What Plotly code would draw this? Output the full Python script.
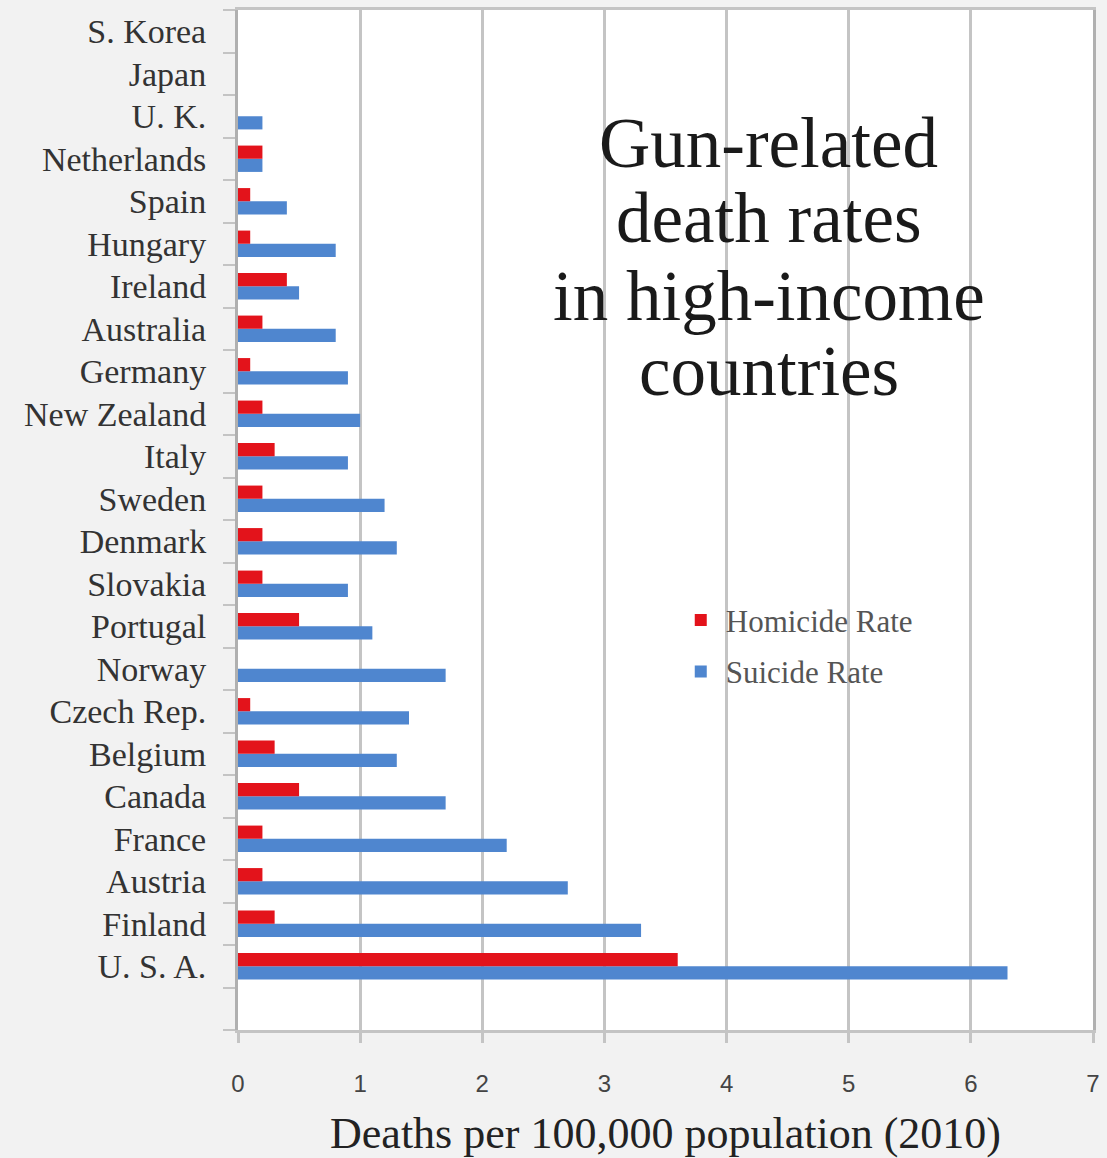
import plotly.graph_objects as go

countries = ["S. Korea", "Japan", "U. K.", "Netherlands", "Spain", "Hungary", "Ireland",
             "Australia", "Germany", "New Zealand", "Italy", "Sweden", "Denmark", "Slovakia",
             "Portugal", "Norway", "Czech Rep.", "Belgium", "Canada", "France", "Austria",
             "Finland", "U. S. A."]
homicide = [0, 0, 0, 0.2, 0.1, 0.1, 0.4, 0.2, 0.1, 0.2, 0.3, 0.2, 0.2, 0.2,
            0.5, 0, 0.1, 0.3, 0.5, 0.2, 0.2, 0.3, 3.6]
suicide = [0, 0, 0.2, 0.2, 0.4, 0.8, 0.5, 0.8, 0.9, 1.0, 0.9, 1.2, 1.3, 0.9,
           1.1, 1.7, 1.4, 1.3, 1.7, 2.2, 2.7, 3.3, 6.3]
title_lines = ["Gun-related", "death rates", "in high-income", "countries"]
x_ticks = [0, 1, 2, 3, 4, 5, 6, 7]

RED = "#e3131b"
BLUE = "#4f86cf"
SERIF = "Liberation Serif, Times New Roman, serif"

# bottom-to-top category order with an empty slot at the bottom
cat_order = [" "] + countries[::-1]

fig = go.Figure()
fig.add_trace(go.Bar(y=countries, x=suicide, orientation="h", name="Suicide Rate",
                     marker=dict(color=BLUE, line=dict(width=0)), legendrank=2,
                     legendgroup="s"))
fig.add_trace(go.Bar(y=countries, x=homicide, orientation="h", name="Homicide Rate",
                     marker=dict(color=RED, line=dict(width=0)), legendrank=1,
                     legendgroup="h"))

line_y = [0.870, 0.796, 0.720, 0.646]
for txt, yy in zip(title_lines, line_y):
    fig.add_annotation(text=txt, x=0.621, y=yy, xref="paper", yref="paper",
                       xanchor="center", yanchor="middle", showarrow=False,
                       font=dict(family=SERIF, size=71, color="#1a1a1a"))

fig.update_layout(
    width=1107, height=1158,
    margin=dict(l=238, r=10, t=7, b=128),
    paper_bgcolor="#f2f2f2", plot_bgcolor="white",
    barmode="group", bargap=0.38, bargroupgap=0,
    font=dict(family=SERIF, color="#444"),
    legend=dict(x=0.512, y=0.428, xanchor="left", yanchor="top",
                bgcolor="rgba(0,0,0,0)", font=dict(family=SERIF, size=31, color="#555"),
                tracegroupgap=8, itemwidth=40),
    showlegend=True,
)
fig.update_xaxes(
    range=[0, 7], tickvals=x_ticks, ticktext=[str(t) for t in x_ticks],
    showgrid=True, gridcolor="#c4c4c4", gridwidth=3,
    showline=True, linecolor="#c4c4c4", linewidth=3, mirror=True,
    ticks="outside", ticklen=10, tickcolor="#c4c4c4", tickwidth=3,
    ticklabelstandoff=20, zeroline=False,
    tickfont=dict(family="Liberation Sans, Arial, sans-serif", size=24, color="#444"),
    title=dict(text="Deaths per 100,000 population (2010)",
               font=dict(family=SERIF, size=44, color="#222"), standoff=22),
)
fig.update_yaxes(
    type="category", categoryorder="array", categoryarray=cat_order,
    range=[-0.5, len(cat_order) - 0.5],
    showline=True, linecolor="#b0b0b0", linewidth=3, mirror=True,
    ticks="outside", tickson="boundaries", ticklen=12, tickcolor="#c4c4c4", tickwidth=2,
    showgrid=False, ticklabelstandoff=22,
    tickfont=dict(family=SERIF, size=34, color="#333"),
)

fig.write_html("out.html")
